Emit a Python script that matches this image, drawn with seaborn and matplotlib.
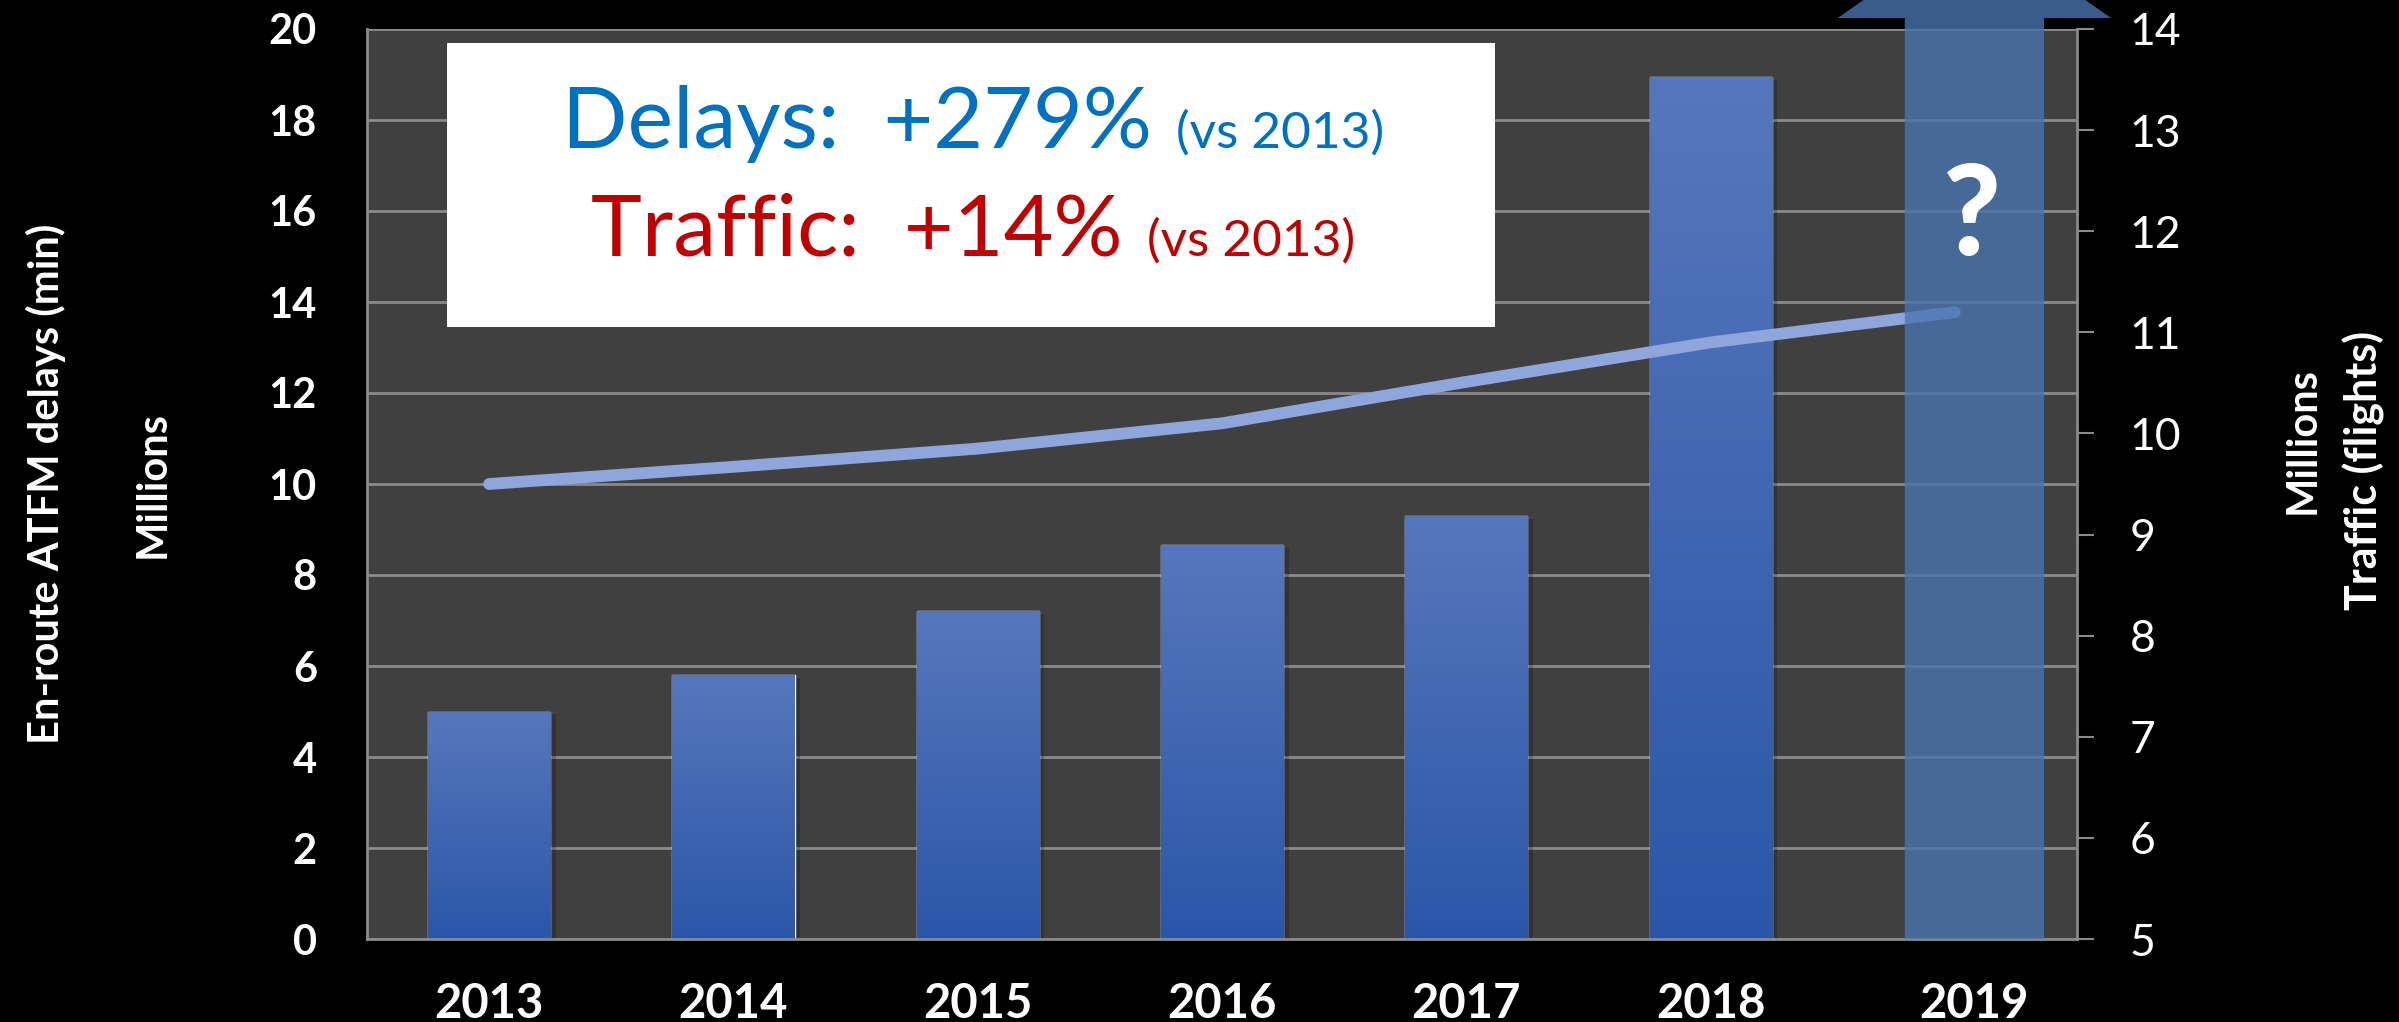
import numpy as np
import pandas as pd
import matplotlib
matplotlib.use('Agg')
import matplotlib.pyplot as plt
import matplotlib.transforms as mtransforms
from matplotlib.patches import Rectangle, Polygon
from matplotlib import patheffects as pe
from matplotlib.colors import LinearSegmentedColormap
import seaborn as sns

# data
years = ['2013', '2014', '2015', '2016', '2017', '2018', '2019']
delay_years = ['2013', '2014', '2015', '2016', '2017', '2018']
delays = [5.0, 5.8, 7.2, 8.65, 9.3, 18.95]                 # en-route ATFM delay, million min
traffic = [9.5, 9.67, 9.85, 10.10, 10.51, 10.90, 11.20]    # flights, millions
left_ticks = list(range(0, 21, 2))
right_ticks = list(range(5, 15))
delay_text = ['Delays:  +279%', '(vs 2013)']
traffic_text = ['Traffic:  +14%', '(vs 2013)']

sns.set_style('dark')
plt.rcParams['font.family'] = ['Lato', 'DejaVu Sans']

W, H = 2399, 1022
fig = plt.figure(figsize=(W / 100, H / 100), dpi=100, facecolor='black')
ax = fig.add_axes([367 / W, 83 / H, 1710 / W, 910 / H])
ax.set_facecolor('#404040')

# bars
df = pd.DataFrame({'year': delay_years, 'delays': delays})
sns.barplot(data=df, x='year', y='delays', order=years, color='#3F64B4',
            width=0.5, ax=ax, zorder=2)

grad = LinearSegmentedColormap.from_list('bar', ['#2B56A8', '#5677BC'])
for p in ax.patches:
    x0, w, h = p.get_x(), p.get_width(), p.get_height()
    p.set_path_effects([pe.SimplePatchShadow(offset=(4, -2), shadow_rgbFace='black', alpha=0.2),
                        pe.Normal()])
    im = ax.imshow(np.linspace(0, 1, 256).reshape(-1, 1), cmap=grad, origin='lower',
                   extent=[x0, x0 + w, 0, h], aspect='auto', zorder=2.5)
    im.set_clip_path(p)

ax.set_xlim(-0.5, 6.5)
ax.set_ylim(0, 20)
ax.set_yticks(left_ticks)
ax.set_xticks([0, 1, 2, 3, 4, 5, 6.08])
ax.set_xticklabels(years)
ax.set_xlabel('')
ax.set_ylabel('')
ax.set_axisbelow(True)
ax.yaxis.grid(True, color='#8A8A8A', linewidth=2)
ax.xaxis.grid(False)
for side in ['left', 'bottom']:
    ax.spines[side].set_visible(True)
    ax.spines[side].set_color('#8A8A8A')
    ax.spines[side].set_linewidth(2)
for side in ['top', 'right']:
    ax.spines[side].set_visible(False)
ax.tick_params(axis='y', length=0, pad=36, labelsize=30, labelcolor='white')
ax.tick_params(axis='x', length=0, pad=31, labelsize=34, labelcolor='white')
for t in ax.get_xticklabels() + ax.get_yticklabels():
    t.set_fontweight('bold')

# traffic line on right axis
ax2 = ax.twinx()
sns.lineplot(x=np.arange(len(years)), y=traffic, ax=ax2, color='#8EA6DC',
             linewidth=8.5, solid_capstyle='round', zorder=3)
ax2.set_ylim(5, 14)
ax2.set_xlim(-0.5, 6.5)
ax2.set_yticks(right_ticks)
ax2.grid(False)
ax2.set_ylabel('')
for side in ['left', 'top', 'bottom']:
    ax2.spines[side].set_visible(False)
ax2.spines['right'].set_visible(True)
ax2.spines['right'].set_color('#8A8A8A')
ax2.spines['right'].set_linewidth(2)
ax2.tick_params(axis='y', direction='out', length=12, width=1.5, color='#8A8A8A',
                pad=26, labelsize=32, labelcolor='white', right=True)

# translucent arrow over 2019
c, s, hw, b, tip = 6.08, 0.285, 0.56, 1.012, 1.117
tr = mtransforms.blended_transform_factory(ax2.transData, ax2.transAxes)
arrow = Polygon([(c - s, 0), (c + s, 0), (c + s, b), (c + hw, b), (c, tip),
                 (c - hw, b), (c - s, b)], closed=True, transform=tr,
                facecolor='#4974AF', edgecolor='none', alpha=0.8, clip_on=False, zorder=6)
ax2.add_patch(arrow)
fig.text(1972 / W, 1 - 218 / H, '?', color='white', fontsize=90, fontweight='black',
         ha='center', va='center', zorder=10)

# white callout box
box = Rectangle((447 / W, 1 - 327 / H), 1048 / W, 284 / H, transform=fig.transFigure,
                facecolor='white', edgecolor='none', zorder=8)
fig.patches.append(box)

renderer = fig.canvas.get_renderer()
def two_part(parts, color, y_px, center_px=973, gap=24):
    big = fig.text(0, 1 - y_px / H, parts[0], color=color, fontsize=62, va='baseline', zorder=9)
    small = fig.text(0, 1 - y_px / H, parts[1], color=color, fontsize=37, va='baseline', zorder=9)
    wb = big.get_window_extent(renderer).width
    ws = small.get_window_extent(renderer).width
    x0 = center_px - (wb + gap + ws) / 2
    big.set_x(x0 / W)
    small.set_x((x0 + wb + gap) / W)

two_part(delay_text, '#0070C0', 148)
two_part(traffic_text, '#C00000', 256)

# axis titles
fig.text(46 / W, 1 - 484 / H, 'En-route ATFM delays (min)', rotation=90, color='white',
         fontsize=30, fontweight='bold', ha='center', va='center')
fig.text(153 / W, 1 - 484 / H, 'Millions', rotation=90, color='white',
         fontsize=30, fontweight='bold', ha='center', va='center')
fig.text(2303 / W, 1 - 440 / H, 'Millions', rotation=90, color='white',
         fontsize=30, fontweight='bold', ha='center', va='center')
fig.text(2364 / W, 1 - 470 / H, 'Traffic (flights)', rotation=90, color='white',
         fontsize=31, fontweight='bold', ha='center', va='center')

fig.savefig('out.png', dpi=100, facecolor='black')
